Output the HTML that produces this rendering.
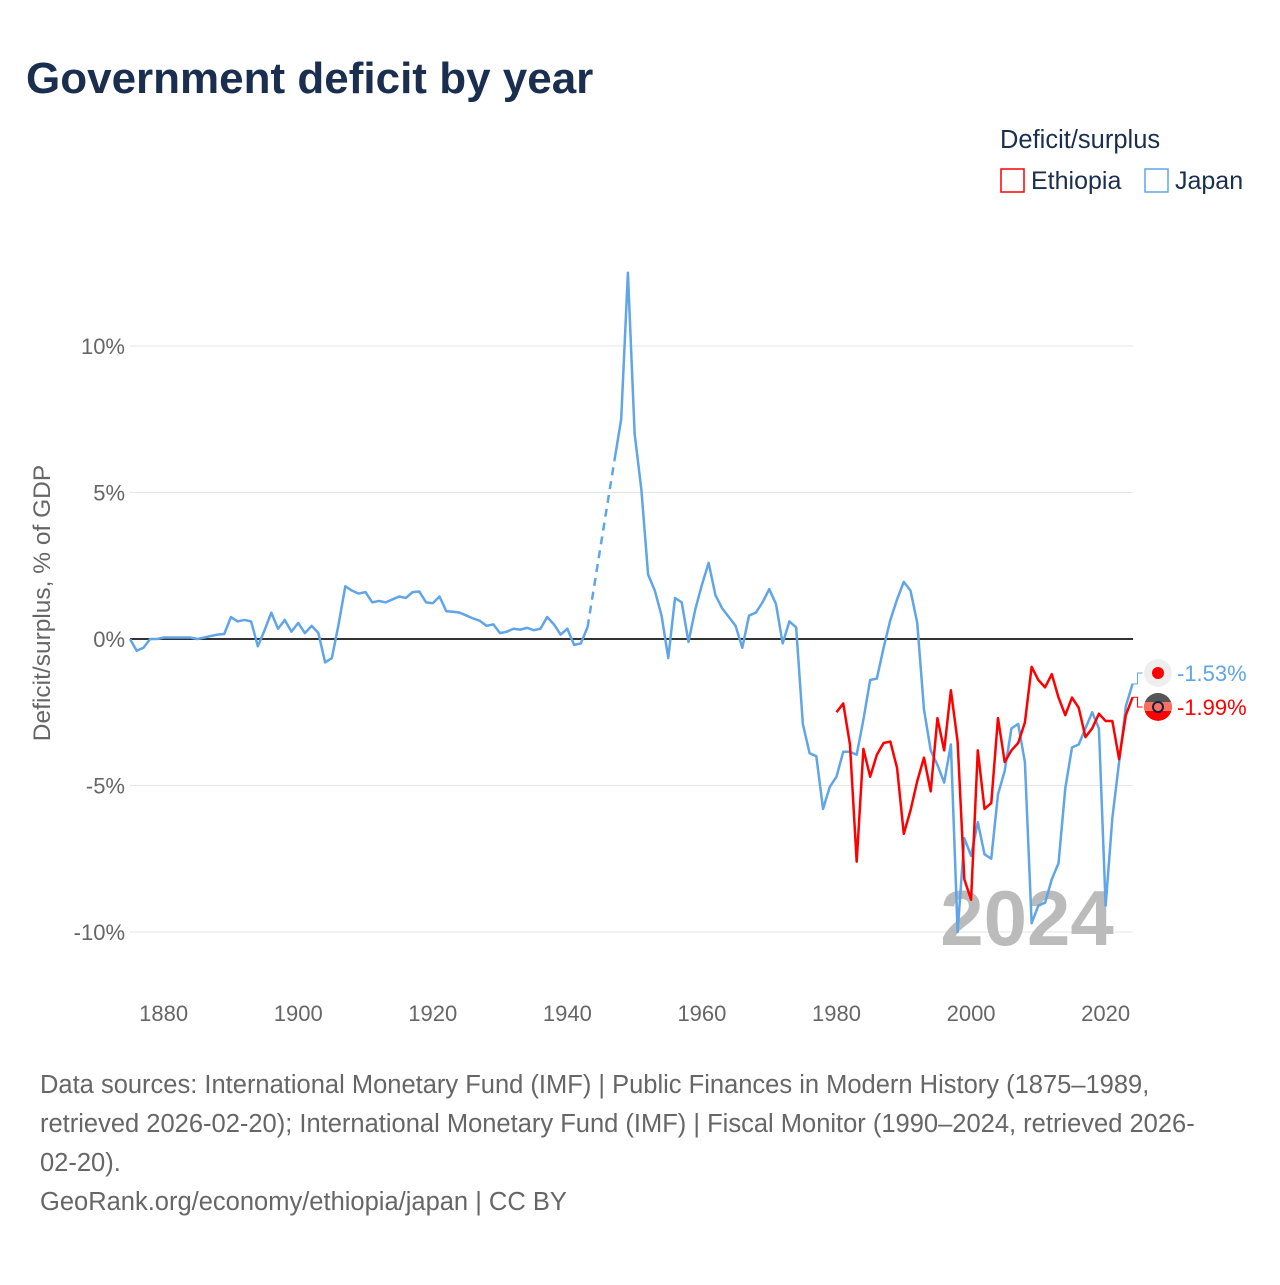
<!DOCTYPE html>
<html><head><meta charset="utf-8"><style>
body{margin:0;background:#fff;font-family:"Liberation Sans",sans-serif}
svg text{font-family:"Liberation Sans",sans-serif}
</style></head><body>
<svg id="chart" width="1280" height="1280" xmlns="http://www.w3.org/2000/svg">
<defs><clipPath id="c1"><circle cx="1158" cy="673" r="14"/></clipPath><clipPath id="c2"><circle cx="1158" cy="707" r="14"/></clipPath></defs>
<rect width="1280" height="1280" fill="#fff"/>
<text x="26" y="93" font-size="44" font-weight="bold" fill="#1a2e4f">Government deficit by year</text>
<text x="1000" y="148" font-size="25.5" fill="#1a2e4f">Deficit/surplus</text>
<g><rect x="1001" y="169" width="23" height="23" fill="none" stroke="#ff0000" stroke-width="1.5"/><text x="1031" y="189" font-size="25" fill="#1a2e4f">Ethiopia</text></g>
<g><rect x="1145" y="169" width="23" height="23" fill="none" stroke="#5fa5e8" stroke-width="1.5"/><text x="1175" y="189" font-size="25" fill="#1a2e4f">Japan</text></g>
<text transform="translate(50,603) rotate(-90)" text-anchor="middle" font-size="24.5" fill="#666">Deficit/surplus, % of GDP</text>
<g id="grid"></g><g id="ylabels"></g><g id="xlabels"></g>
<text x="1027" y="945" text-anchor="middle" font-size="78" font-weight="bold" fill="#bbb">2024</text>
<g id="series"></g>
<g font-size="25.5" fill="#666">
<text x="40" y="1093">Data sources: International Monetary Fund (IMF) | Public Finances in Modern History (1875–1989,</text>
<text x="40" y="1132">retrieved 2026-02-20); International Monetary Fund (IMF) | Fiscal Monitor (1990–2024, retrieved 2026-</text>
<text x="40" y="1171">02-20).</text>
<text x="40" y="1210">GeoRank.org/economy/ethiopia/japan | CC BY</text>
</g>
</svg>
<script>
const yTicks=[-10,-5,0,5,10];
const xTicks=[1880,1900,1920,1940,1960,1980,2000,2020];
const japanStart=1875;
const japanValues=[0,-0.4,-0.3,0,0,0.05,0.05,0.05,0.05,0.05,0,0.05,0.1,0.15,0.17,0.75,0.6,0.65,0.6,-0.25,0.3,0.9,0.35,0.65,0.25,0.55,0.2,0.45,0.2,-0.8,-0.65,0.5,1.8,1.65,1.55,1.6,1.25,1.3,1.25,1.35,1.45,1.4,1.6,1.62,1.25,1.22,1.45,0.95,0.93,0.9,0.8,0.7,0.62,0.45,0.5,0.2,0.25,0.35,0.32,0.38,0.3,0.35,0.75,0.5,0.15,0.35,-0.2,-0.15,0.4,null,null,null,6.1,7.5,12.5,7.0,5.1,2.2,1.65,0.8,-0.65,1.4,1.25,-0.1,1.0,1.85,2.6,1.5,1.05,0.75,0.45,-0.3,0.8,0.9,1.25,1.7,1.2,-0.15,0.6,0.4,-2.9,-3.9,-4.0,-5.8,-5.05,-4.7,-3.85,-3.85,-3.95,-2.75,-1.4,-1.35,-0.3,0.65,1.35,1.95,1.65,0.55,-2.4,-3.8,-4.3,-4.9,-3.6,-10.0,-6.8,-7.4,-6.25,-7.35,-7.5,-5.3,-4.5,-3.05,-2.9,-4.2,-9.7,-9.1,-9.0,-8.2,-7.65,-5.1,-3.7,-3.6,-3.05,-2.5,-3.05,-9.1,-6.1,-4.2,-2.3,-1.53];
const ethiopiaStart=1980;
const ethiopiaValues=[-2.5,-2.2,-3.6,-7.6,-3.75,-4.7,-3.95,-3.55,-3.5,-4.4,-6.65,-5.85,-4.85,-4.05,-5.2,-2.7,-3.8,-1.75,-3.5,-8.2,-8.9,-3.8,-5.8,-5.6,-2.7,-4.2,-3.8,-3.55,-2.85,-0.95,-1.4,-1.65,-1.2,-2.0,-2.6,-2.0,-2.35,-3.35,-3.05,-2.55,-2.8,-2.8,-4.1,-2.6,-1.99];

const NS='http://www.w3.org/2000/svg';
const X=y=>130+(y-1875)*(1106-164)/140;
const Y=v=>639-v*29.3;
function mk(tag,attrs,parent,text){const e=document.createElementNS(NS,tag);for(const k in attrs)e.setAttribute(k,attrs[k]);if(text!==undefined)e.textContent=text;parent.appendChild(e);return e;}
const grid=document.getElementById('grid'),yl=document.getElementById('ylabels'),xl=document.getElementById('xlabels'),ser=document.getElementById('series');
yTicks.forEach(t=>{
  if(t!==0){const l=mk('line',{x1:130,x2:1133,y1:Y(t),y2:Y(t),stroke:'#e3e6ea','stroke-width':1},grid);
  
  }
  const tx=mk('text',{x:125,y:Y(t)+8,'text-anchor':'end','font-size':22,fill:'#666'},yl,t+'%');
  
  
});
xTicks.forEach(t=>{
  const tx=mk('text',{x:X(t),y:1021,'text-anchor':'middle','font-size':22,fill:'#666'},xl,String(t));
  
  
});
const zl=mk('line',{x1:130,x2:1133,y1:Y(0),y2:Y(0),stroke:'#333','stroke-width':2},grid);



function drawSeries(start,vals,color,name){
  let segs=[],cur=[],gaps=[];let last=null;
  vals.forEach((v,i)=>{const yr=start+i;
    if(v===null){if(cur.length){segs.push(cur);cur=[];}}
    else{if(last&&last.i!==i-1)gaps.push([last,{i,yr,v}]);cur.push([X(yr),Y(v)]);last={i,yr,v};}
  });
  if(cur.length)segs.push(cur);
  segs.forEach(s=>{const p=mk('polyline',{points:s.map(q=>q.join(',')).join(' '),fill:'none',stroke:color,'stroke-width':2.5,'stroke-linejoin':'round'},ser);
    
    });
  gaps.forEach(g=>{const p=mk('line',{x1:X(g[0].yr),y1:Y(g[0].v),x2:X(g[1].yr),y2:Y(g[1].v),stroke:color,'stroke-width':2.5,'stroke-dasharray':'8,6'},ser);
    
    });
}
drawSeries(japanStart,japanValues,'#5fa5e8','japan');
drawSeries(ethiopiaStart,ethiopiaValues,'#ff0000','ethiopia');

function endLabel(start,vals,color,ly,name,flag,clip){
  const v=vals[vals.length-1],yr=start+vals.length-1;const x=X(yr),y=Y(v);
  const c=mk('polyline',{points:`${x},${y} ${x+5},${y} ${x+5},${ly} ${x+10},${ly}`,fill:'none',stroke:color,'stroke-width':1},ser);
  
  
  const g=mk('g',{'clip-path':'url(#'+clip+')'},ser);
  
  
  if(flag==='jp'){mk('circle',{cx:1158,cy:ly,r:14,fill:'#eee'},g);mk('circle',{cx:1158,cy:ly,r:6,fill:'#f00'},g);}
  else{mk('circle',{cx:1158,cy:ly,r:14,fill:'#f00'},g);mk('rect',{x:1144,y:ly-14,width:28,height:9,fill:'#555'},g);mk('rect',{x:1144,y:ly-5,width:28,height:9,fill:'#f87060'},g);mk('circle',{cx:1158,cy:ly,r:5,fill:'none',stroke:'#124',"stroke-width":2},g);}
  const t=mk('text',{x:1177,y:ly+8,'font-size':22,fill:color},ser,v.toFixed(2)+'%');
  
  
}
endLabel(japanStart,japanValues,'#5fa5e8',673,'japan','jp','c1');
endLabel(ethiopiaStart,ethiopiaValues,'#ff0000',707,'ethiopia','et','c2');
</script>
</body></html>
